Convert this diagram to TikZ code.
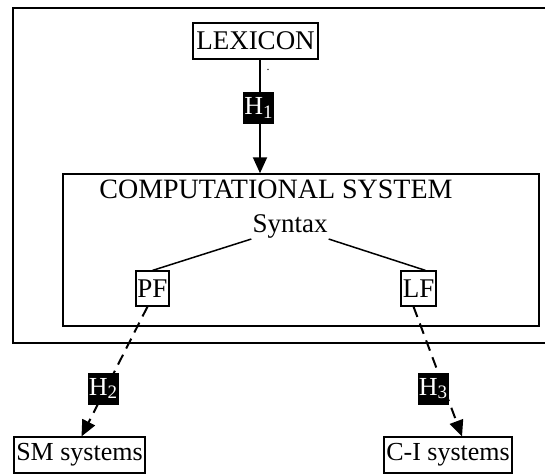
\documentclass[tikz,border=0pt]{standalone}
\usepackage{fontspec}
\setmainfont{Liberation Serif}
\usetikzlibrary{arrows.meta,calc}
\begin{document}
\begin{tikzpicture}[x=1pt,y=-1pt,
  txt/.style={font=\fontsize{27}{27}\selectfont},
  box/.style={txt, draw, line width=1.2pt, inner sep=0pt},
  hbox/.style={fill=black, text=white, inner sep=0pt, minimum width=31pt, minimum height=32pt, font=\fontsize{26}{26}\selectfont},
  arr/.style={line width=2pt, -{Triangle[length=16pt,width=14pt]}},
  dsh/.style={arr, dash pattern=on 11pt off 7pt}]
\useasboundingbox (0,0) rectangle (545,475);
\clip (0,0) rectangle (545,475);
% outer frame (cut off at right)
\draw[line width=2.2pt] (13,8) rectangle (575,343);
% computational system box
\node[draw, line width=1.5pt, minimum width=476pt, minimum height=152pt, inner sep=0pt] (cs) at (301,250) {};
\node[txt, font=\fontsize{28}{28}\selectfont, anchor=base, inner sep=1pt] (cst) at (276,198) {COMPUTATIONAL SYSTEM};
\node[txt, anchor=base, inner sep=1pt] (syn) at (290,232) {Syntax};
% boxes
\node[box, minimum width=125pt, minimum height=36pt] (lex) at (255.5,41) {LEXICON};
\node[box, minimum width=33pt, minimum height=35pt] (pf) at (152.5,288.5) {PF};
\node[box, minimum width=35pt, minimum height=35pt] (lf) at (418.5,288.5) {LF};
\node[box, font=\fontsize{26}{26}\selectfont, minimum width=131pt, minimum height=36pt] (sm) at (79.5,455) {SM systems};
\node[box, font=\fontsize{26}{26}\selectfont, minimum width=128pt, minimum height=36pt] (ci) at (448,455) {C-I systems};
\node[inner sep=0pt, font=\fontsize{12}{12}\selectfont] (dot) at (268,70) {.};
% tree lines
\draw[line width=1.5pt] (syn.south west) -- (pf.north);
\draw[line width=1.5pt] (syn.south east) -- ($(lf.north)+(7,0)$);
% arrows
\draw[arr] ($(lex.south)+(4.5,0)$) -- ($(cs.north)+(-41,0)$);
\draw[dsh] ($(pf.south)+(-5,0)$) -- ($(sm.north)+(2,0)$);
\draw[dsh] ($(lf.south)+(-5,0)$) -- ($(ci.north)+(14,0)$);
% H labels
\node[hbox] (h1) at (258.5,108) {H\raisebox{-0.3ex}{\fontsize{19}{19}\selectfont 1}};
\node[hbox] (h2) at (103,388.5) {H\raisebox{-0.3ex}{\fontsize{19}{19}\selectfont 2}};
\node[hbox] (h3) at (433,388.5) {H\raisebox{-0.3ex}{\fontsize{19}{19}\selectfont 3}};
\end{tikzpicture}
\end{document}
